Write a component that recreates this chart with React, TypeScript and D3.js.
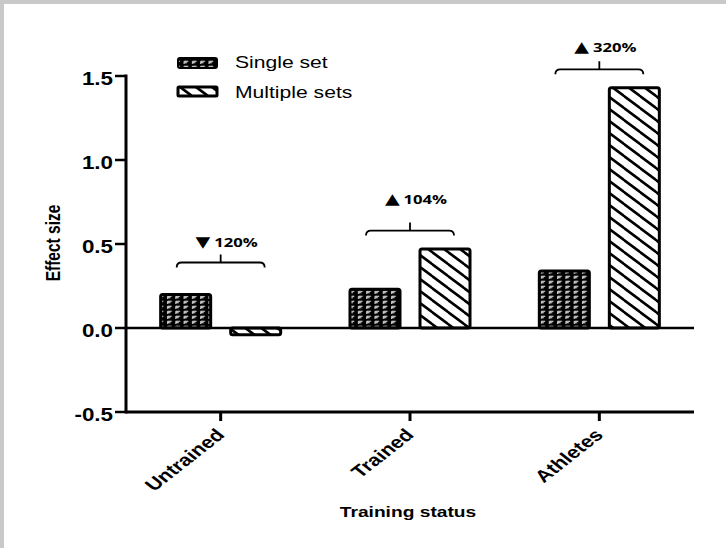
import React from 'react'
import * as d3 from 'd3'

// values
const categories = ['Untrained', 'Trained', 'Athletes']
const seriesNames = ['Single set', 'Multiple sets']
const singleSet = [0.2, 0.23, 0.34]
const multipleSets = [-0.04, 0.47, 1.43]
const yTicks = [-0.5, 0, 0.5, 1.0, 1.5]
// bracket annotations: arrow, label, bracket level and label level (effect size units)
const annoArrows = ['\u25BC', '\u25B2', '\u25B2']
const annoLabels = ['120%', '104%', '320%']
const annoLevels = [0.39, 0.58, 1.54]
const annoTextLevels = [0.48, 0.74, 1.64]

const W = 726
const H = 548
const SX = 1.28 // the source picture is stretched sideways
const FONT = '"Liberation Sans", Arial, sans-serif'

const x = d3.scaleBand<string>().domain(categories).range([126, 694]).padding(0)
const xInner = d3.scaleBand<string>().domain(seriesNames).range([0, x.bandwidth()])
  .paddingInner(0.2857).paddingOuter(0.495)
const y = d3.scaleLinear().domain([-0.5, 1.5]).range([412, 76])

const fmt = (v: number) => v.toFixed(1)

function SText (props: any) {
  const { x: tx, y: ty, rotate = 0, children, ...rest } = props
  return (
    <text transform={`translate(${tx},${ty}) scale(${SX},1) rotate(${rotate})`} {...rest}>
      {children}
    </text>
  )
}

function Bar ({ cat, s, v }: { cat: string, s: number, v: number }) {
  const bx = (x(cat) as number) + (xInner(seriesNames[s]) as number)
  const y0 = y(0)
  const y1 = y(v)
  return (
    <rect x={bx} y={Math.min(y0, y1)} width={xInner.bandwidth()} height={Math.abs(y1 - y0)}
      rx={2} fill={s === 0 ? 'url(#dots)' : 'url(#hatch)'} stroke="#000" strokeWidth={3} />
  )
}

export default function App () {
  const data = [singleSet, multipleSets]
  return (
    <svg width={W} height={H} style={{ display: 'block' }}>
      <style>{'body{margin:0}'}</style>
      <defs>
        <pattern id="dots" patternUnits="userSpaceOnUse" width={8.3} height={5}>
          <rect width={8.3} height={5} fill="#000" />
          <path d="M1.5,1.2 h4.2 M1.6,1.2 v2.8 M1.6,2.7 h2.8" stroke="#f2f2f2" strokeWidth={1} fill="none" />
        </pattern>
        <pattern id="hatch" patternUnits="userSpaceOnUse" width={16} height={12}>
          <rect width={16} height={12} fill="#fff" />
          <path d="M-4,-3 L20,15 M-20,-3 L4,15 M12,-3 L36,15" stroke="#000" strokeWidth={2.6} />
        </pattern>
      </defs>

      {/* frame */}
      <rect width={W} height={H} fill="#c9c9c9" />
      <rect x={4} y={4} width={W - 4} height={H - 4} fill="#fff" />

      {/* bars */}
      {categories.map((c, i) => (
        <g key={c}>
          {data.map((arr, s) => <Bar key={s} cat={c} s={s} v={arr[i]} />)}
        </g>
      ))}

      {/* zero line and axes */}
      <line x1={126} x2={694} y1={y(0)} y2={y(0)} stroke="#000" strokeWidth={2.5} />
      <line x1={126} x2={694} y1={y(-0.5)} y2={y(-0.5)} stroke="#000" strokeWidth={3} />
      <line x1={126} x2={126} y1={y(1.5) - 1.5} y2={y(-0.5) + 1.5} stroke="#000" strokeWidth={3} />

      {yTicks.map(t => (
        <g key={t}>
          <line x1={115} x2={126} y1={y(t)} y2={y(t)} stroke="#000" strokeWidth={2.5} />
          <SText x={113} y={y(t)} dy="0.5em" textAnchor="end" fontFamily={FONT}
            fontWeight="bold" fontSize={17.5}>{fmt(t)}</SText>
        </g>
      ))}

      {categories.map(c => {
        const cx = (x(c) as number) + x.bandwidth() / 2
        return (
          <g key={c}>
            <line x1={cx} x2={cx} y1={y(-0.5)} y2={y(-0.5) + 9} stroke="#000" strokeWidth={3} />
            <SText x={cx + 5} y={436} rotate={-45} textAnchor="end" fontFamily={FONT}
              fontWeight="bold" fontSize={17}>{c}</SText>
          </g>
        )
      })}

      {/* axis titles */}
      <SText x={60} y={243} rotate={-90} textAnchor="middle" fontFamily={FONT}
        fontWeight="bold" fontSize={15.5}>Effect size</SText>
      <SText x={408} y={517} textAnchor="middle" fontFamily={FONT}
        fontWeight="bold" fontSize={15}>Training status</SText>

      {/* brackets */}
      {categories.map((c, i) => {
        const cx = (x(c) as number) + x.bandwidth() / 2
        const by = y(annoLevels[i])
        const x0 = cx - 44
        const x1 = cx + 44
        const d = `M${x0},${by + 5} q0,-5 5,-5 H${x1 - 5} q5,0 5,5 M${cx},${by} v-8`
        return (
          <g key={c}>
            <path d={d} fill="none" stroke="#000" strokeWidth={1.8} />
            <SText x={cx + 6} y={y(annoTextLevels[i])} textAnchor="middle"
              fontFamily='"Open Sans", sans-serif' fontWeight="bold" fontSize={13}>
              <tspan fontFamily='"DejaVu Sans", sans-serif' fontSize={15}>{annoArrows[i]}</tspan>
              <tspan dx={3}>{annoLabels[i]}</tspan>
            </SText>
          </g>
        )
      })}

      {/* legend */}
      <rect x={178} y={58} width={39} height={10} rx={2} fill="url(#dots)" stroke="#000" strokeWidth={2} />
      <rect x={178} y={87} width={39} height={9} rx={1} fill="url(#hatch)" stroke="#000" strokeWidth={3} />
      <SText x={235} y={68} fontFamily={FONT} fontSize={16.5}>{seriesNames[0]}</SText>
      <SText x={235} y={98} fontFamily={FONT} fontSize={16.5}>{seriesNames[1]}</SText>
    </svg>
  )
}
